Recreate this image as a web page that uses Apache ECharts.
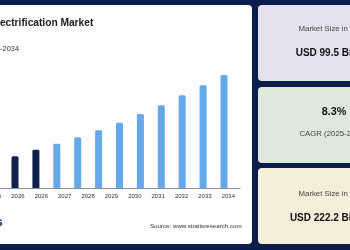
<!DOCTYPE html>
<html>
<head>
<meta charset="utf-8">
<script src="https://cdn.jsdelivr.net/npm/echarts@6/dist/echarts.min.js"></script>
<style>
html,body{margin:0;padding:0;background:#0b1e4b;}
#c{width:350px;height:250px;}
</style>
</head>
<body>
<div id="c"></div>
<script>
// Tick labels shown under the axis (as printed in the reference)
var tickLabels = ['2025','2026','2026','2027','2028','2029','2030','2031','2032','2033','2034'];
// Bar categories
var barYears = ['2024','2025','2026','2027','2028','2029','2030','2031','2032','2033','2034'];
// Market size values (USD billion)
var marketValues = [62.3, 75.3, 87.1, 99.7, 113.5, 128.4, 145.5, 162.6, 182.3, 201.9, 222.2];
// Bars drawn in dark (historical) colour
var darkCount = 2;
// Card texts
var titleText = 'Railway Electrification Market';
var subtitleText = '2025-2034';
var sourceText = 'Source: www.straitsresearch.com';
var card1Label = 'Market Size in 2025', card1Value = 'USD 99.5 Billion';
var card2Value = '8.3%', card2Label = 'CAGR (2025-2034)';
var card3Label = 'Market Size in 2034', card3Value = 'USD 222.2 Billion';

var NAVY = '#0b1e4b';
var chart = echarts.init(document.getElementById('c'), null, {renderer: 'canvas'});

var barData = marketValues.map(function (v, i) {
  return {value: v, itemStyle: {color: i < darkCount ? '#0f2149' : '#64a9ea'}};
});

var FONT = 'Liberation Sans, Arial, Helvetica, sans-serif';

chart.setOption({
  backgroundColor: NAVY,
  animation: false,
  grid: [
    {left: -17.1, width: 257.1, top: 75, height: 113, containLabel: false, outerBoundsMode: 'none'},
    {left: 4.55, width: 229.9, top: 75, height: 113, containLabel: false, outerBoundsMode: 'none'}
  ],
  xAxis: [
    {
      type: 'category', gridIndex: 0, data: tickLabels,
      axisLine: {show: true, lineStyle: {color: '#8a8d94', width: 1}},
      axisTick: {show: false},
      axisLabel: {fontSize: 6, color: '#333', margin: 5, fontFamily: FONT, interval: 0}
    },
    {
      type: 'category', gridIndex: 1, data: barYears, show: false
    }
  ],
  yAxis: [
    {type: 'value', gridIndex: 0, min: 0, max: 222.2, show: false},
    {type: 'value', gridIndex: 1, min: 0, max: 222.2, show: false}
  ],
  series: [{
    type: 'bar', xAxisIndex: 1, yAxisIndex: 1,
    barWidth: 7,
    data: barData,
    itemStyle: {borderRadius: [1.5, 1.5, 0, 0]},
    z: 5
  }],
  graphic: [
    {type: 'rect', z: -10, shape: {x: -10, y: 5, width: 262, height: 239, r: 4}, style: {fill: '#fdfdff'}},
    {type: 'rect', z: -10, shape: {x: 258, y: 5, width: 130, height: 76, r: 4}, style: {fill: '#e5e0ee'}},
    {type: 'rect', z: -10, shape: {x: 258, y: 87, width: 130, height: 76, r: 4}, style: {fill: '#dde9da'}},
    {type: 'rect', z: -10, shape: {x: 258, y: 168, width: 130, height: 76, r: 4}, style: {fill: '#f4efd9'}},
    {type: 'text', z: 10, x: 93.3, y: 23, style: {text: titleText, font: 'bold 10.2px ' + FONT, fill: '#1b1b1b', textAlign: 'right', textVerticalAlign: 'middle'}},
    {type: 'text', z: 10, x: 19, y: 49, style: {text: subtitleText, font: '7.4px ' + FONT, fill: '#333', textAlign: 'right', textVerticalAlign: 'middle'}},
    {type: 'text', z: 10, x: 241.7, y: 226, style: {text: sourceText, font: '6.2px ' + FONT, fill: '#333', textAlign: 'right', textVerticalAlign: 'middle'}},
    {type: 'text', z: 10, x: -4.5, y: 222, style: {text: 's', font: 'bold 13px ' + FONT, fill: '#1a3263', textAlign: 'left', textVerticalAlign: 'middle'}},
    {type: 'text', z: 10, x: 333, y: 29, style: {text: card1Label, font: '7.8px ' + FONT, fill: '#444', textAlign: 'center', textVerticalAlign: 'middle'}},
    {type: 'text', z: 10, x: 334, y: 53, style: {text: card1Value, font: 'bold 10px ' + FONT, fill: '#111', textAlign: 'center', textVerticalAlign: 'middle'}},
    {type: 'text', z: 10, x: 334, y: 112, style: {text: card2Value, font: 'bold 10.8px ' + FONT, fill: '#111', textAlign: 'center', textVerticalAlign: 'middle'}},
    {type: 'text', z: 10, x: 333, y: 134, style: {text: card2Label, font: '7.8px ' + FONT, fill: '#444', textAlign: 'center', textVerticalAlign: 'middle'}},
    {type: 'text', z: 10, x: 333, y: 194, style: {text: card3Label, font: '7.8px ' + FONT, fill: '#444', textAlign: 'center', textVerticalAlign: 'middle'}},
    {type: 'text', z: 10, x: 331, y: 218, style: {text: card3Value, font: 'bold 10px ' + FONT, fill: '#111', textAlign: 'center', textVerticalAlign: 'middle'}}
  ]
});
</script>
</body>
</html>
